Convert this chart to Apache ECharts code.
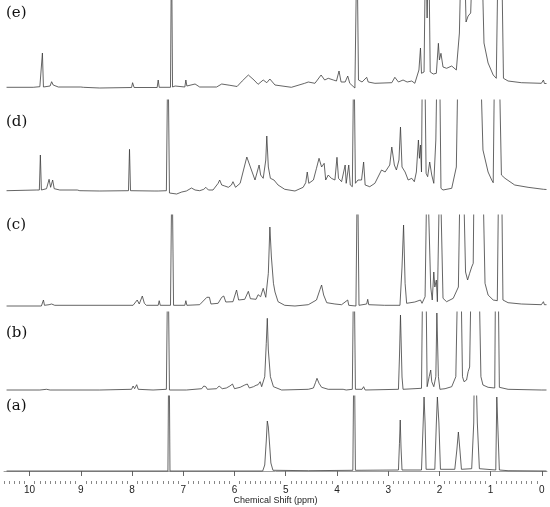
<!DOCTYPE html>
<html>
<head>
<meta charset="utf-8">
<script src="https://cdn.jsdelivr.net/npm/echarts@6/dist/echarts.min.js"></script>
<style>
  html, body { margin: 0; padding: 0; background: #fff; }
  #chart { width: 550px; height: 507px; }
</style>
</head>
<body>
<div id="chart"></div>
<script>
// panel labels, top to bottom
var panelLabels = ['(e)', '(d)', '(c)', '(b)', '(a)'];
var majorTicks = [0, 1, 2, 3, 4, 5, 6, 7, 8, 9, 10];

// [ppm, intensity], 150 = peak runs off the panel top
var specE = [
  [10.45, 0.7], [9.93, 0.7], [9.80, 1.3], [9.77, 1], [9.75, 35], [9.73, 1], [9.60, 2], [9.57, 6.3], [9.54, 3],
  [9.44, 1], [9.00, 1], [8.98, 3], [8.95, 0.7], [8.63, 0], [8.01, 0.5], [7.99, 5.3], [7.96, 0.5], [7.51, 0.5],
  [7.49, 8], [7.47, 0.7], [7.25, 0.7], [7.23, 150], [7.21, 1], [7.16, 2], [6.97, 1], [6.95, 8], [6.93, 2],
  [6.77, 4], [6.68, 1], [6.35, 1], [6.25, 4], [6.09, 2.7], [5.95, 1.5], [5.85, 7], [5.73, 13], [5.62, 8],
  [5.54, 3.7], [5.44, 8], [5.37, 5.3], [5.31, 9], [5.21, 3], [4.89, 0.7], [4.63, 4.7], [4.56, 6], [4.43, 4.7],
  [4.31, 13], [4.24, 8], [4.17, 9.7], [4.07, 8], [4.01, 7], [3.96, 17], [3.92, 6], [3.84, 6], [3.79, 12],
  [3.75, 4.7], [3.65, 0], [3.61, 150], [3.58, 8], [3.51, 6], [3.42, 10.7], [3.39, 6], [3.26, 4.7], [2.93, 5.3],
  [2.87, 10.7], [2.80, 6], [2.71, 8], [2.63, 6], [2.54, 7], [2.48, 4.7], [2.40, 18], [2.37, 40], [2.35, 14.7],
  [2.30, 16], [2.27, 150], [2.24, 70], [2.21, 150], [2.18, 16], [2.12, 14], [2.06, 14.7], [2.02, 44.7],
  [2.00, 28], [1.97, 34.7], [1.93, 21], [1.86, 19.7], [1.76, 22], [1.67, 18], [1.61, 55], [1.57, 150],
  [1.52, 150], [1.48, 66], [1.44, 72], [1.39, 75], [1.34, 150], [1.18, 150], [1.13, 45], [1.05, 25],
  [0.95, 13], [0.89, 9.7], [0.85, 150], [0.79, 150], [0.75, 9.7], [0.66, 7], [0.40, 5.3], [0.01, 4.7],
  [-0.03, 8], [-0.05, 4.5], [-0.09, 4.5]
];

var specD = [
  [10.45, 0.3], [9.86, 1], [9.81, 1], [9.79, 36], [9.77, 1], [9.67, 2.3], [9.62, 11.7], [9.59, 3.7], [9.55, 11],
  [9.52, 2.3], [9.41, 1], [9.07, 1], [9.05, 2.3], [9.02, 0.3], [8.63, 0], [8.07, 0.3], [8.05, 41.7], [8.03, 0.3],
  [7.57, 0], [7.54, 1.7], [7.49, 0], [7.33, 0.3], [7.30, 150], [7.27, -2], [7.13, -3], [7.03, -1], [7.00, 1],
  [6.94, 0], [6.84, 3], [6.77, 1], [6.68, 0.3], [6.60, 1.7], [6.56, 3.7], [6.51, 1], [6.42, 1], [6.32, 7.7],
  [6.29, 11], [6.25, 6], [6.19, 5], [6.12, 3.7], [6.06, 6], [6.03, 9.3], [5.98, 3.7], [5.89, 7.7], [5.76, 34],
  [5.67, 21], [5.60, 11], [5.52, 26], [5.49, 16], [5.44, 12.7], [5.39, 31], [5.37, 55], [5.34, 24], [5.30, 12.7],
  [5.23, 11], [5.21, 11], [5.15, 6], [5.02, 1.7], [4.82, 0], [4.66, 3.7], [4.61, 8.3], [4.58, 19], [4.55, 7.7],
  [4.46, 11], [4.40, 22.7], [4.35, 32.7], [4.30, 24], [4.25, 27.7], [4.22, 11], [4.17, 16], [4.11, 12.7],
  [4.04, 11], [4.00, 33.7], [3.97, 12.7], [3.91, 9.3], [3.84, 26], [3.82, 7.7], [3.77, 26], [3.74, 6],
  [3.70, 4.3], [3.67, 150], [3.64, 7.7], [3.59, 11], [3.52, 11], [3.48, 29], [3.45, 6], [3.36, 4.3], [3.26, 7.7],
  [3.13, 21], [3.06, 19], [2.97, 26], [2.93, 44], [2.88, 26], [2.84, 21], [2.79, 31], [2.76, 64], [2.73, 24],
  [2.67, 19], [2.61, 11], [2.54, 12.7], [2.49, 9.3], [2.45, 19], [2.41, 51], [2.39, 32.7], [2.37, 46], [2.35, 19],
  [2.33, 150], [2.29, 150], [2.26, 17.7], [2.23, 14.3], [2.19, 29], [2.15, 16], [2.11, 7.7], [2.07, 51],
  [2.04, 150], [2.00, 150], [1.97, 2.7], [1.93, 1], [1.76, 2.7], [1.67, 24], [1.63, 150], [1.21, 150],
  [1.15, 41], [1.05, 19], [0.98, 11], [0.95, 8.3], [0.92, 150], [0.84, 150], [0.79, 16], [0.72, 12.7],
  [0.53, 6], [0.27, 3.7], [-0.03, 1.7], [-0.09, 1.5]
];

var specC = [
  [10.45, 0], [9.77, 0], [9.73, 6], [9.71, 0.7], [9.62, 1.3], [9.57, 2], [9.51, 0.7], [7.98, 0.7], [7.90, 6],
  [7.86, 2], [7.80, 10], [7.76, 2.7], [7.72, 0.7], [7.49, 0.7], [7.47, 5.3], [7.45, 0.7], [7.25, 0.7],
  [7.22, 150], [7.19, 0.7], [6.97, 0.7], [6.95, 5.3], [6.93, 0.7], [6.68, 1.3], [6.54, 8.7], [6.49, 8.7],
  [6.46, 2], [6.32, 2.7], [6.25, 8.7], [6.21, 10], [6.17, 4], [6.03, 4.3], [5.96, 16], [5.92, 6], [5.80, 6.7],
  [5.73, 14.7], [5.69, 7.3], [5.58, 6.7], [5.54, 11.3], [5.49, 9.3], [5.44, 17.7], [5.39, 8.7], [5.34, 32.7],
  [5.31, 79], [5.28, 49], [5.24, 22.7], [5.21, 14], [5.15, 4.3], [5.02, 0.7], [4.82, 0], [4.56, 1.3], [4.40, 6],
  [4.33, 16.7], [4.30, 21], [4.26, 11], [4.20, 3.3], [4.04, 2], [3.91, 1.3], [3.79, 6], [3.77, 0.7], [3.63, 0],
  [3.60, 150], [3.57, 0.7], [3.42, 2], [3.40, 6.7], [3.38, 1.3], [3.07, 0.7], [2.77, 0.7], [2.73, 39],
  [2.70, 81], [2.67, 22.7], [2.64, 2.7], [2.48, 4], [2.45, 2], [2.37, 6], [2.34, 2.7], [2.28, 9.3],
  [2.24, 150], [2.21, 150], [2.17, 19], [2.14, 6], [2.11, 34], [2.09, 19], [2.06, 26], [2.04, 4.3],
  [1.99, 150], [1.96, 150], [1.93, 7.7], [1.86, 4.3], [1.73, 7.7], [1.63, 19], [1.59, 150], [1.54, 150],
  [1.49, 34], [1.45, 26], [1.41, 32.7], [1.37, 39], [1.34, 42.7], [1.32, 150], [1.16, 150], [1.11, 22.7],
  [1.05, 11], [0.95, 6], [0.87, 5.3], [0.84, 150], [0.79, 150], [0.76, 6], [0.66, 3.3], [0.40, 2], [0.01, 1.3],
  [-0.03, 4.3], [-0.05, 1.3], [-0.09, 1.3]
];

var specB = [
  [10.45, 0], [9.80, 0], [9.67, 0.7], [9.60, 0], [8.63, 0], [8.01, 0.7], [7.98, 4], [7.95, 1.3], [7.91, 5.3],
  [7.88, 0.7], [7.59, 0], [7.33, 0.7], [7.30, 150], [7.27, 0], [6.94, 0], [6.64, 1.3], [6.60, 4], [6.56, 3.3],
  [6.53, 0.7], [6.35, 1.3], [6.30, 4], [6.27, 4.7], [6.24, 1.3], [6.16, 2], [6.09, 4], [6.04, 6], [6.00, 1.3],
  [5.89, 2.7], [5.80, 5], [5.75, 6], [5.71, 2], [5.63, 3.3], [5.58, 4.7], [5.54, 5.3], [5.50, 8.3], [5.47, 3.3],
  [5.41, 13.3], [5.38, 46.7], [5.36, 71.7], [5.34, 40], [5.30, 13.3], [5.24, 3.3], [5.21, 1.3], [5.08, 0],
  [4.56, 0.7], [4.46, 2], [4.42, 7.3], [4.39, 11.7], [4.35, 6.7], [4.30, 2.7], [4.17, 0.7], [3.88, 0.7],
  [3.85, 2.7], [3.82, 0], [3.70, 0.7], [3.67, 150], [3.64, 0.7], [3.51, 0.7], [3.48, 3.3], [3.45, 0],
  [2.80, 0.7], [2.78, 33], [2.76, 75], [2.73, 13], [2.71, 0.7], [2.35, 1.7], [2.32, 150], [2.27, 150],
  [2.24, 3.3], [2.20, 13.3], [2.17, 20], [2.15, 8.3], [2.11, 3.3], [2.07, 13.3], [2.05, 77], [2.02, 13.3],
  [1.99, 0.7], [1.89, 1.3], [1.76, 3.3], [1.68, 13.3], [1.63, 150], [1.59, 150], [1.55, 13.3], [1.52, 8.3],
  [1.47, 10], [1.44, 18.3], [1.41, 23], [1.37, 150], [1.24, 150], [1.19, 13.3], [1.15, 5], [1.05, 2.7],
  [0.92, 2], [0.90, 150], [0.86, 150], [0.83, 2.7], [0.66, 0.7], [0.01, 0], [-0.09, 0]
];

var specA = [
  [10.45, 0], [7.30, 0], [7.28, 150], [7.26, 0], [5.45, 0], [5.41, 6], [5.38, 30], [5.36, 50], [5.34, 44],
  [5.32, 30], [5.29, 8], [5.25, 0.7], [5.21, 0.7], [4.56, 0.3], [3.69, 0.7], [3.665, 150], [3.64, 0.7],
  [2.80, 1], [2.78, 27.7], [2.765, 51], [2.75, 24], [2.73, 1], [2.35, 1], [2.32, 44], [2.30, 74], [2.28, 48],
  [2.26, 1.7], [2.09, 1.7], [2.06, 48], [2.04, 74], [2.01, 48], [1.98, 1.7], [1.70, 1.7], [1.66, 21],
  [1.63, 39], [1.60, 21], [1.57, 1.7], [1.37, 2.3], [1.33, 48], [1.31, 150], [1.28, 150], [1.26, 48],
  [1.22, 2.3], [0.90, 1], [0.88, 74], [0.85, 74], [0.83, 1], [0.66, 0.3], [-0.09, 0]
];

var spectra = [specE, specD, specC, specB, specA];

// panel placement in pixels (baseline = value 0)
var panels = [
  { top: 0,   height: 91, min: -3,  max: 88, labelY: 15 },
  { top: 100, height: 95, min: -4,  max: 91, labelY: 124 },
  { top: 215, height: 94, min: -3,  max: 91, labelY: 227 },
  { top: 312, height: 81, min: -3,  max: 78, labelY: 335 },
  { top: 396, height: 85, min: -10, max: 75, labelY: 408 }
];

var minorTicks = [];
for (var i = 0; i <= 105; i++) {
  if (i % 10 !== 0) minorTicks.push(i / 10);
}

var chart = echarts.init(document.getElementById('chart'), null, { renderer: 'canvas' });

var grids = [], xAxes = [], yAxes = [], series = [], labels = [];
panels.forEach(function (p, k) {
  grids.push({ left: 4, width: 543, top: p.top, height: p.height });
  var last = k === panels.length - 1;
  xAxes.push({
    type: 'value', gridIndex: k, min: -0.1, max: 10.5, inverse: true,
    show: last,
    position: 'bottom',
    splitLine: { show: false },
    axisLine: { show: true, lineStyle: { color: '#a0a0a0', width: 1 } },
    axisTick: { customValues: majorTicks, length: 5, lineStyle: { color: '#666' } },
    axisLabel: {
      customValues: majorTicks, fontSize: 10, color: '#222', margin: 4,
      fontFamily: 'Liberation Sans'
    },
    name: last ? 'Chemical Shift (ppm)' : '',
    nameLocation: 'middle', nameGap: 15,
    nameTextStyle: { fontSize: 9, color: '#222', fontFamily: 'Liberation Sans' }
  });
  yAxes.push({ type: 'value', gridIndex: k, min: p.min, max: p.max, show: false });
  series.push({
    type: 'line', xAxisIndex: k, yAxisIndex: k,
    data: spectra[k],
    symbol: 'none', clip: true, silent: true,
    lineStyle: { color: '#3d3d3d', width: 0.8 }
  });
  labels.push({
    type: 'text', left: 6, top: p.labelY - 9,
    style: { text: panelLabels[k], font: '15px "DejaVu Serif"', fill: '#111' }
  });
});

// minor ticks on the bottom axis
xAxes.push({
  type: 'value', gridIndex: 4, min: -0.1, max: 10.5, inverse: true,
  position: 'bottom',
  splitLine: { show: false },
  axisLine: { show: false },
  axisLabel: { show: false },
  axisTick: { customValues: minorTicks, length: 3, lineStyle: { color: '#888' } }
});

chart.setOption({
  animation: false,
  grid: grids,
  xAxis: xAxes,
  yAxis: yAxes,
  series: series,
  graphic: labels
});
</script>
</body>
</html>
